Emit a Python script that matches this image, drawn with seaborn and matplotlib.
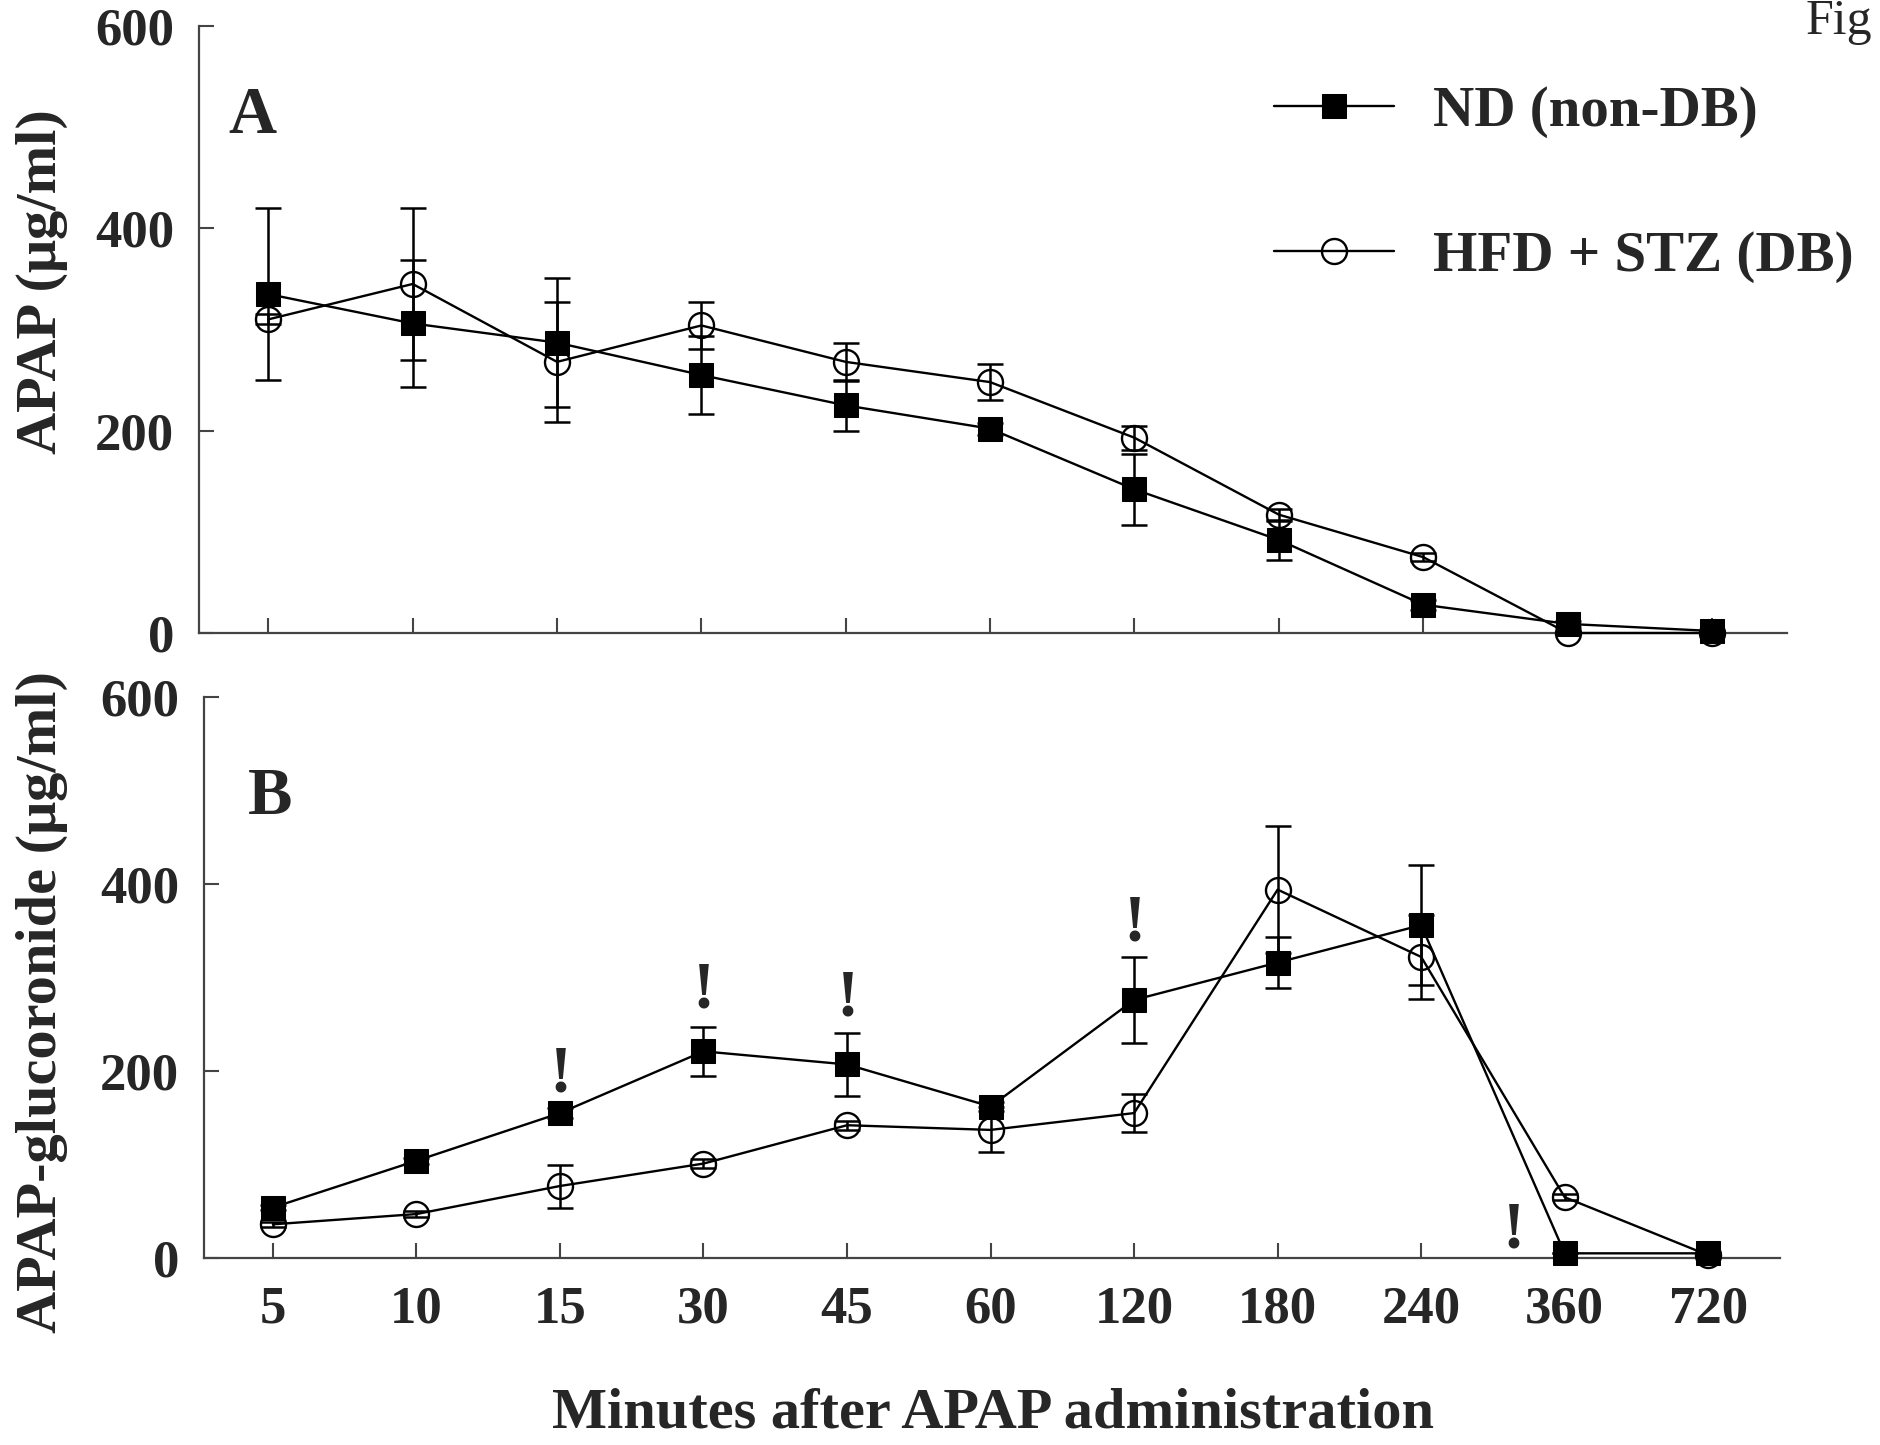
import numpy as np
import pandas as pd
import matplotlib
matplotlib.use("Agg")
import matplotlib.pyplot as plt
import seaborn as sns

# ---------------- data ----------------
categories = ['5', '10', '15', '30', '45', '60', '120', '180', '240', '360', '720']

apap_nd = [335, 306, 287, 255, 225, 202, 142, 92, 28, 9, 2]
apap_nd_err = [85, 63, 64, 39, 25, 6, 35, 20, 5, 3, 0]
apap_db = [310, 345, 268, 304, 268, 248, 193, 117, 75, 0, 0]
apap_db_err = [5, 75, 59, 23, 19, 18, 12, 6, 4, 0, 0]

gluc_nd = [54, 104, 155, 221, 207, 162, 276, 316, 356, 5, 5]
gluc_nd_err = [3, 3, 5, 26, 34, 5, 46, 27, 64, 0, 0]
gluc_db = [36, 47, 77, 101, 142, 137, 155, 394, 322, 65, 3]
gluc_db_err = [3, 3, 23, 5, 5, 24, 20, 68, 45, 3, 0]

# significance marks in panel B: (category position, value at the baseline of "!")
sig_pos = [2, 3, 4, 6, 8.64]
sig_val = [178, 268, 259, 340, 11]

label_nd = 'ND (non-DB)'
label_db = 'HFD + STZ (DB)'

# ---------------- style ----------------
sns.set_theme(style="ticks")
plt.rcParams['font.family'] = ['Liberation Serif', 'DejaVu Serif']
plt.rcParams['font.weight'] = 'bold'
plt.rcParams['axes.labelweight'] = 'bold'

W, H = 1881, 1445
fig = plt.figure(figsize=(W / 100, H / 100), dpi=100)

ax_a = fig.add_axes([199 / W, 1 - 633 / H, 1588 / W, 607 / H])
ax_b = fig.add_axes([204 / W, 1 - 1258 / H, 1576 / W, 561 / H])

pos = np.arange(len(categories))
ms = 18
lw = 1.7


def draw(ax, nd, nd_err, db, db_err, with_labels):
    ax.errorbar(pos, nd, yerr=nd_err, fmt='none', ecolor='black', elinewidth=1.8,
                capsize=9.5, capthick=1.8, zorder=1.5)
    ax.errorbar(pos, db, yerr=db_err, fmt='none', ecolor='black', elinewidth=1.8,
                capsize=9.5, capthick=1.8, zorder=1.5)
    sns.lineplot(x=pos, y=nd, ax=ax, color='black', linewidth=lw, marker='s',
                 markersize=ms - 1, markerfacecolor='black', markeredgecolor='black',
                 label=label_nd if with_labels else None, legend=False, zorder=3,
                 clip_on=False)
    sns.lineplot(x=pos, y=db, ax=ax, color='black', linewidth=lw, marker='o',
                 markersize=ms, markerfacecolor='none', markeredgecolor='black',
                 markeredgewidth=1.7,
                 label=label_db if with_labels else None, legend=False, zorder=3,
                 clip_on=False)


draw(ax_a, apap_nd, apap_nd_err, apap_db, apap_db_err, True)
draw(ax_b, gluc_nd, gluc_nd_err, gluc_db, gluc_db_err, False)

for ax, xl in ((ax_a, (-0.48, 10.52)), (ax_b, (-0.48, 10.50))):
    ax.set_xlim(*xl)
    ax.set_ylim(0, 600)
    ax.set_yticks([0, 200, 400, 600])
    ax.set_xticks(pos)
    ax.set_xlabel('')
    ax.set_ylabel('')
    for s in ('top', 'right'):
        ax.spines[s].set_visible(False)
    for s in ('left', 'bottom'):
        ax.spines[s].set_color('#444444')
        ax.spines[s].set_linewidth(1.6)
    ax.tick_params(axis='both', direction='in', length=11, width=1.5, color='#444444',
                   labelsize=38, pad=18)
    for t in ax.get_yticklabels():
        t.set_fontweight('bold')

ax_a.set_xticklabels([])
ax_b.set_xticklabels(categories, fontweight='bold')
ax_b.tick_params(axis='x', pad=20)

for p, v in zip(sig_pos, sig_val):
    ax_b.text(p, v, '!', ha='center', va='baseline', fontsize=48, fontweight='bold')

# panel letters
fig.text(228 / W, 1 - 133 / H, 'A', fontsize=48, fontweight='bold', va='baseline')
fig.text(248 / W, 1 - 814 / H, 'B', fontsize=48, fontweight='bold', va='baseline')

# y labels
fig.text(42 / W, 1 - 282 / H, 'APAP (μg/ml)', rotation=90, ha='center', va='center',
         fontsize=42, fontweight='bold')
fig.text(42 / W, 1 - 1002 / H, 'APAP-glucoronide (μg/ml)', rotation=90, ha='center',
         va='center', fontsize=42, fontweight='bold')

# x label
fig.text(993 / W, 1 - 1414 / H, 'Minutes after APAP administration', ha='center',
         va='center', fontsize=42, fontweight='bold')

# corner text
fig.text(1806 / W, 1 - 34 / H, 'Fig', fontsize=36, fontweight='normal', va='baseline')

# legend
handles, labels = ax_a.get_legend_handles_labels()
leg = ax_a.legend(handles, labels, loc='upper left',
                  bbox_to_anchor=(1274 / W, 1 - 86 / H), bbox_transform=fig.transFigure,
                  frameon=False, handlelength=2.1, handletextpad=0.7,
                  labelspacing=1.62, borderpad=0, borderaxespad=0,
                  prop={'weight': 'bold', 'size': 41})

fig.savefig('out.png', dpi=100)
